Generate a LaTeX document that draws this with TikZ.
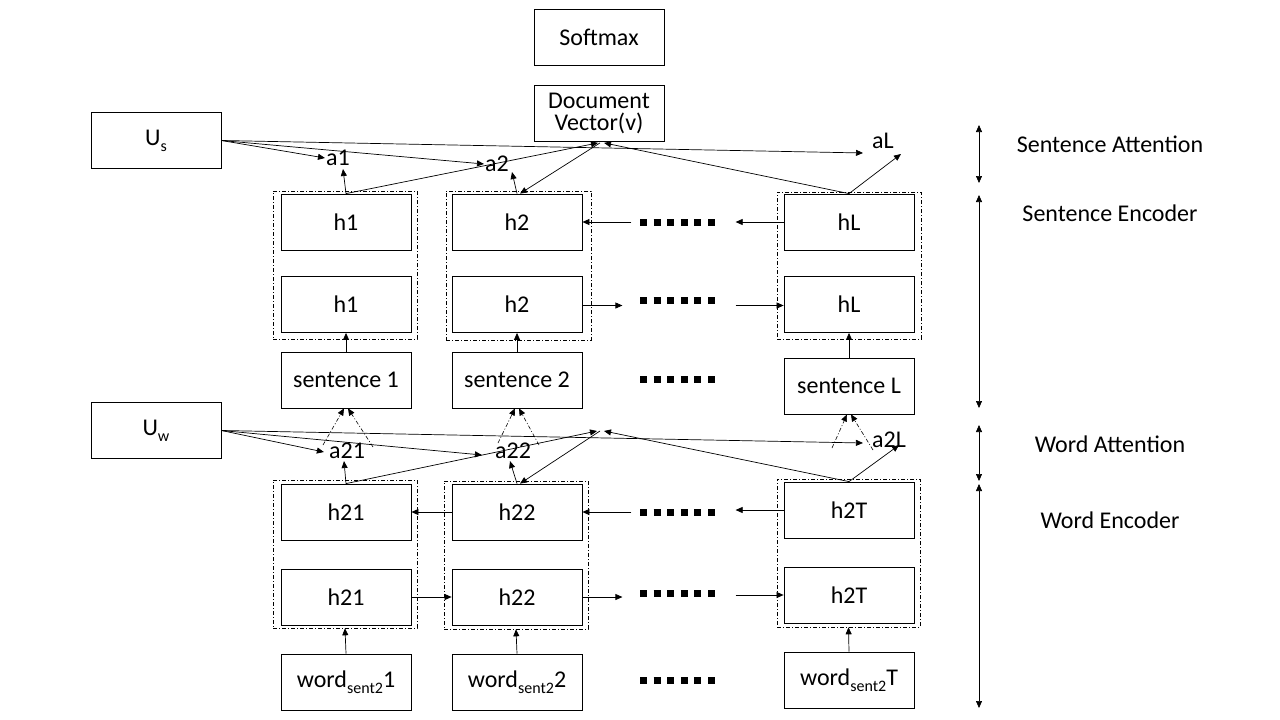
\documentclass[tikz,border=0pt]{standalone}
\usepackage{fontspec}
\setmainfont{Carlito}
\usetikzlibrary{arrows.meta,calc}
\newcommand\subtx[1]{\raisebox{-0.25em}{\fontsize{16}{16}\selectfont #1}}
\begin{document}
\begin{tikzpicture}[x=1pt,y=-1pt,
  box/.style={draw,line width=0.8pt,minimum width=130pt,minimum height=56pt,inner sep=0pt},
  grp/.style={draw,line width=0.6pt,dash pattern=on 4pt off 2pt on 1pt off 2pt,inner sep=0pt},
  lbl/.style={inner sep=1pt},
  arr/.style={line width=0.7pt,-{Triangle[length=7pt,width=6pt]}},
  darr/.style={line width=0.7pt,{Triangle[length=7pt,width=6pt]}-{Triangle[length=7pt,width=6pt]}},
  att/.style={line width=0.6pt,dash pattern=on 4pt off 2pt on 1pt off 2pt,-{Triangle[length=7pt,width=6pt]}},
  dotsrow/.style={line width=7pt,dash pattern=on 7pt off 6.6pt},
  font=\fontsize{24}{22}\selectfont]
\useasboundingbox (0,0) rectangle (1280,720);
\fill[white] (0,0) rectangle (1280,720);

% top boxes
\node[box] (soft) at (599,37.5) {Softmax};
\node[box,align=center] (dv) at (599,113.5) {Document\\Vector(v)};
\node[box] (us) at (156,140.5) {U\subtx{s}};
\node[box] (uw) at (156,430.5) {U\subtx{w}};

% dashed groups
\node[grp,minimum width=144pt,minimum height=148pt] (g1) at (345,265) {};
\node[grp,minimum width=145pt,minimum height=149pt] (g2) at (518.5,265.5) {};
\node[grp,minimum width=144pt,minimum height=147pt] (gL) at (849,265.5) {};
\node[grp,minimum width=144pt,minimum height=148pt] (gw1) at (345,554) {};
\node[grp,minimum width=144pt,minimum height=148pt] (gw2) at (516,555) {};
\node[grp,minimum width=143pt,minimum height=148pt] (gwT) at (848.5,553) {};

% sentence encoder
\node[box] (h1t) at (346,222) {h1};
\node[box] (h1b) at (346,304.5) {h1};
\node[box] (s1) at (346,380) {sentence 1};
\node[box] (h2t) at (517,222) {h2};
\node[box] (h2b) at (517,304.5) {h2};
\node[box] (s2) at (517,380) {sentence 2};
\node[box] (hLt) at (849,222) {hL};
\node[box] (hLb) at (849,304.5) {hL};
\node[box] (sL) at (849,386) {sentence L};

% word encoder
\node[box] (h21t) at (346,512) {h21};
\node[box] (h21b) at (346,597) {h21};
\node[box] (w1) at (346,682) {word\subtx{sent2}1};
\node[box] (h22t) at (517,512) {h22};
\node[box] (h22b) at (517,597) {h22};
\node[box] (w2) at (517,682) {word\subtx{sent2}2};
\node[box] (h2Tt) at (849,510) {h2T};
\node[box] (h2Tb) at (849,595) {h2T};
\node[box] (wT) at (849,680) {word\subtx{sent2}T};

% dots
\draw[dotsrow] (640,222) -- (717,222);
\draw[dotsrow] (640,300) -- (717,300);
\draw[dotsrow] (640,379) -- (717,379);
\draw[dotsrow] (640,512) -- (717,512);
\draw[dotsrow] (640,593) -- (717,593);
\draw[dotsrow] (640,680) -- (717,680);

% attention labels
\node[lbl] (a1) at (338,158) {a1};
\node[lbl] (a2) at (497,164) {a2};
\node[lbl] (aL) at (883,141) {aL};
\node[lbl] (a21) at (347,451) {a21};
\node[lbl] (a22) at (513,451) {a22};
\node[lbl] (a2L) at (889,440) {a2L};
\coordinate (wv) at (599,431);

% sentence attention connectors
\draw[arr] (us.east) -- (a1.west);
\draw[arr] (us.east) -- (a2.west);
\draw[arr] (us.east) -- ($(aL.south west)+(-8,3)$);
\draw[arr] (h1t.north) -- ($(a1.south)+(5,2)$);
\draw[arr] (h1t.north) -- ($(dv.south)+(-1,1)$);
\draw[arr] ($(dv.south)+(1,1)$) -- ($(h2t.north)+(3,0)$);
\draw[arr] (h2t.north) -- ($(a2.south)+(15,-1)$);
\draw[arr] (hLt.north) -- ($(dv.south)+(5,1)$);
\draw[arr] (hLt.north) -- ($(aL.south east)+(6,4)$);

% word attention connectors
\draw[arr] (uw.east) -- ($(a21.west)+(-4,1)$);
\draw[arr] (uw.east) -- ($(a22.west)+(-12,4)$);
\draw[arr] (uw.east) -- ($(a2L.west)+(-8,3)$);
\draw[arr] (h21t.north) -- ($(a21.south)+(-3,1)$);
\draw[arr] (h21t.north) -- ($(wv)+(-2,0)$);
\draw[arr] ($(wv)+(1,0)$) -- ($(h22t.north)+(3,0)$);
\draw[arr] (h22t.north) -- ($(a22.south)+(-3,1)$);
\draw[arr] (h2Tt.north) -- ($(wv)+(5,0)$);
\draw[arr] (h2Tt.north) -- ($(a2L.south east)+(-8,-4)$);

% attention to sentence (dash-dot)
\draw[att] ($(a21)+(-24,-6)$) -- ($(s1.south)+(-2,0)$);
\draw[att] ($(a21)+(26,-4)$) -- ($(s1.south)+(2,0)$);
\draw[att] ($(a22)+(-15,-8)$) -- ($(s2.south)+(-2,0)$);
\draw[att] ($(a22)+(26,-6)$) -- ($(s2.south)+(2,0)$);
\draw[att] ($(a2L)+(-57,8)$) -- ($(sL.south)+(-2,0)$);
\draw[att] ($(a2L)+(-16,10)$) -- ($(sL.south)+(2,0)$);

% sentence encoder recurrences
\draw[arr] ($(h2t.east)+(49,0)$) -- (h2t.east);
\draw[arr] (hLt.west) -- ($(hLt.west)+(-48,0)$);
\draw[arr] ($(h2b.east)+(0,1)$) -- ($(h2b.east)+(40,1)$);
\draw[arr] ($(hLb.west)+(-48,1)$) -- ($(hLb.west)+(0,1)$);
\draw[arr] (s1.north) -- (h1b.south);
\draw[arr] (s2.north) -- (h2b.south);
\draw[arr] (sL.north) -- (hLb.south);

% word encoder recurrences
\draw[arr] (h22t.west) -- (h21t.east);
\draw[arr] ($(h22t.east)+(49,0)$) -- (h22t.east);
\draw[arr] (h2Tt.west) -- ($(h2Tt.west)+(-48,0)$);
\draw[arr] (h21b.east) -- (h22b.west);
\draw[arr] (h22b.east) -- ($(h22b.east)+(40,0)$);
\draw[arr] ($(h2Tb.west)+(-48,0)$) -- (h2Tb.west);
\draw[arr] (w1.north) -- (gw1.south);
\draw[arr] (w2.north) -- (gw2.south);
\draw[arr] (wT.north) -- (gwT.south);

% right-side level markers
\coordinate (sa1) at (979,125); \coordinate (sa2) at (979,183);
\coordinate (se1) at (979,195); \coordinate (se2) at (979,408);
\coordinate (wa1) at (979,425); \coordinate (wa2) at (979,481);
\coordinate (we1) at (979,484); \coordinate (we2) at (979,708);
\draw[darr] (sa1) -- (sa2);
\draw[darr] (se1) -- (se2);
\draw[darr] (wa1) -- (wa2);
\draw[darr] (we1) -- (we2);
\node (tsa) at (1110,144) {Sentence Attention};
\node (tse) at (1110,213) {Sentence Encoder};
\node (twa) at (1110,444) {Word Attention};
\node (twe) at (1110,520) {Word Encoder};
\end{tikzpicture}
\end{document}
